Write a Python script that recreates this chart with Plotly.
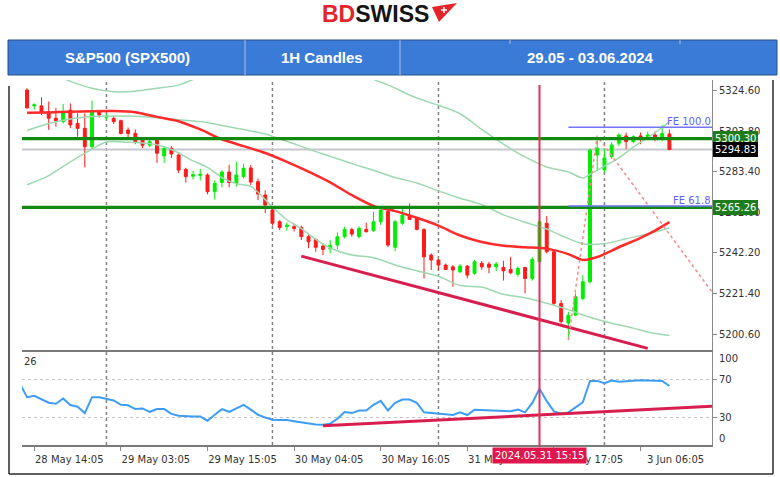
import plotly.graph_objects as go

# ---------------- data ----------------
bars = list(range(90))
opens = [5325.1, 5317.0, 5317.0, 5314.0, 5310.7, 5309.0, 5314.9, 5308.1, 5305.6, 5296.2,
         5314.0, 5311.2, 5310.7, 5309.5, 5304.7, 5303.0, 5299.6, 5297.0, 5300.0, 5291.5,
         5295.4, 5292.0, 5284.7, 5281.2, 5281.6, 5281.8, 5273.3, 5278.0, 5283.3, 5277.5,
         5281.0, 5285.4, 5278.4, 5271.6, 5264.0, 5258.0, 5255.5, 5255.5, 5255.1, 5250.4,
         5249.0, 5245.6, 5244.3, 5246.1, 5250.4, 5254.0, 5250.4, 5254.1, 5253.4, 5258.0,
         5263.2, 5245.0, 5257.2, 5260.9, 5259.7, 5254.1, 5241.0, 5238.5, 5235.9, 5235.0,
         5232.5, 5235.4, 5231.7, 5236.8, 5236.4, 5235.0, 5234.7, 5233.7, 5231.2, 5234.7,
         5229.1, 5237.6, 5257.2, 5242.7, 5216.4, 5206.4, 5210.4, 5218.9, 5227.4, 5292.0,
         5284.4, 5291.1, 5298.0, 5301.7, 5298.8, 5301.7, 5300.5, 5302.2, 5301.0, 5302.7]
highs = [5326.0, 5318.3, 5321.4, 5319.2, 5316.0, 5318.0, 5318.3, 5313.2, 5313.2, 5319.7,
         5315.0, 5313.0, 5311.8, 5310.0, 5306.0, 5305.0, 5300.5, 5300.0, 5300.5, 5296.5,
         5296.5, 5293.0, 5285.5, 5284.0, 5285.0, 5282.6, 5279.0, 5284.3, 5287.0, 5288.6,
         5287.5, 5286.9, 5280.0, 5274.0, 5264.5, 5258.8, 5257.7, 5257.0, 5256.0, 5251.3,
         5249.5, 5247.0, 5248.6, 5252.6, 5255.5, 5255.0, 5255.7, 5257.5, 5263.0, 5265.2,
         5265.0, 5259.0, 5265.2, 5267.3, 5260.4, 5254.6, 5241.9, 5239.0, 5236.7, 5235.9,
         5236.4, 5235.9, 5238.5, 5238.0, 5237.6, 5237.5, 5238.1, 5240.1, 5235.3, 5235.0,
         5240.0, 5258.5, 5260.9, 5243.8, 5218.1, 5212.1, 5221.5, 5230.8, 5295.3, 5299.5,
         5295.0, 5298.5, 5303.0, 5303.4, 5302.0, 5303.4, 5304.0, 5304.0, 5307.3, 5305.0]
lows = [5315.5, 5315.2, 5312.4, 5304.8, 5306.4, 5308.0, 5305.6, 5301.3, 5285.7, 5295.0,
        5311.0, 5310.0, 5307.8, 5302.5, 5301.0, 5297.5, 5295.5, 5296.0, 5288.0, 5288.0,
        5290.5, 5282.8, 5278.0, 5279.5, 5279.0, 5272.0, 5269.4, 5275.5, 5275.5, 5275.8,
        5280.0, 5276.7, 5269.0, 5262.3, 5256.0, 5253.7, 5253.5, 5253.0, 5248.7, 5244.5,
        5242.7, 5241.0, 5241.9, 5244.0, 5249.5, 5250.4, 5249.4, 5252.6, 5252.9, 5256.4,
        5245.0, 5243.0, 5256.4, 5258.9, 5253.6, 5229.1, 5233.4, 5233.4, 5233.4, 5224.9,
        5231.8, 5229.1, 5231.0, 5233.5, 5231.7, 5233.0, 5228.0, 5231.3, 5230.0, 5221.5,
        5228.0, 5236.8, 5241.9, 5215.3, 5206.2, 5198.0, 5210.0, 5218.0, 5226.5, 5284.0,
        5283.0, 5290.0, 5296.5, 5295.0, 5298.0, 5297.5, 5299.6, 5299.0, 5299.0, 5294.5]
closes = [5316.0, 5317.6, 5313.8, 5310.7, 5309.5, 5314.0, 5307.3, 5305.6, 5296.2, 5314.0,
          5312.4, 5311.8, 5309.0, 5303.0, 5303.0, 5298.8, 5297.0, 5298.8, 5292.9, 5295.4,
          5292.5, 5284.3, 5281.0, 5282.0, 5282.2, 5273.3, 5277.5, 5283.3, 5278.0, 5281.8,
          5285.2, 5278.2, 5272.1, 5266.5, 5257.2, 5255.0, 5256.3, 5254.6, 5250.4, 5247.8,
          5245.0, 5243.9, 5246.0, 5250.3, 5254.1, 5251.7, 5254.6, 5252.9, 5258.0, 5264.0,
          5246.1, 5258.0, 5261.4, 5259.2, 5254.1, 5240.1, 5238.5, 5235.9, 5233.7, 5233.4,
          5235.4, 5230.8, 5237.6, 5235.0, 5234.8, 5236.4, 5233.0, 5232.0, 5234.2, 5229.1,
          5238.8, 5258.0, 5242.7, 5216.4, 5207.1, 5210.4, 5219.8, 5227.4, 5294.5, 5295.5,
          5290.5, 5297.1, 5302.2, 5298.8, 5301.3, 5300.0, 5302.2, 5300.5, 5303.0, 5294.8]

# moving average (red) at sample bars
ma_bars = [0, 3, 6, 9, 12, 15, 18, 21, 24, 27, 30, 33, 36, 39, 42, 45, 48, 51, 54, 57,
           60, 63, 66, 69, 72, 75, 77, 79, 82, 85, 87, 89]
ma_vals = [5313.5, 5313.7, 5314.0, 5314.3, 5314.4, 5313.8, 5311.4, 5309.2, 5305.0, 5300.0,
           5296.5, 5293.0, 5288.5, 5283.5, 5278.0, 5271.5, 5266.0, 5263.4, 5260.0, 5256.0,
           5251.0, 5247.7, 5245.8, 5245.0, 5244.3, 5241.5, 5238.5, 5240.0, 5245.0, 5249.8,
           5253.5, 5257.8]

# bands (light green)
up_bars = [0, 3, 6, 9, 12, 15, 18, 21, 24, 27, 33, 40, 45, 48, 50, 54, 57, 60, 63, 66,
           69, 72, 75, 77, 78, 80, 82, 84, 86, 88, 89]
up_vals = [5338.0, 5334.0, 5329.5, 5326.0, 5324.2, 5324.5, 5326.0, 5327.6, 5332.0, 5336.0,
           5339.0, 5339.0, 5336.0, 5330.5, 5327.7, 5321.0, 5317.3, 5313.0, 5305.0, 5297.5,
           5291.0, 5285.9, 5283.3, 5280.3, 5282.2, 5286.3, 5290.5, 5296.0, 5300.8, 5306.0,
           5309.0]
mid_bars = [0, 3, 6, 9, 12, 15, 18, 21, 24, 27, 30, 33, 36, 39, 42, 45, 48, 51, 54, 57,
            60, 63, 66, 69, 72, 74, 77, 80, 83, 86, 89]
mid_vals = [5304.5, 5308.0, 5310.3, 5311.6, 5311.9, 5311.7, 5311.0, 5310.0, 5309.0, 5307.0,
            5305.0, 5302.7, 5299.0, 5295.0, 5291.3, 5287.6, 5284.2, 5280.5, 5277.7, 5273.7,
            5270.0, 5266.7, 5261.5, 5257.7, 5254.3, 5251.0, 5246.8, 5246.8, 5249.3, 5251.8,
            5254.8]
low_bars = [0, 3, 6, 9, 11, 14, 17, 19, 21, 23, 25, 27, 29, 31, 32, 34, 36, 38, 40, 42,
            45, 48, 51, 54, 57, 60, 63, 66, 69, 72, 75, 78, 81, 84, 86, 89]
low_vals = [5276.8, 5281.5, 5288.5, 5295.0, 5298.6, 5298.5, 5297.8, 5296.2, 5293.0, 5289.0,
            5285.7, 5280.5, 5277.4, 5276.0, 5273.0, 5265.5, 5259.0, 5254.5, 5249.0, 5244.6,
            5241.0, 5239.7, 5236.0, 5233.0, 5230.2, 5225.5, 5224.7, 5221.0, 5219.3, 5216.5,
            5213.2, 5209.3, 5206.3, 5203.8, 5201.8, 5200.0]

# RSI (blue), first value belongs to the bar just left of the view
rsi_bars = list(range(-1, 90))
rsi_vals = [66.0,
            51.4, 52.9, 49.0, 45.5, 44.3, 50.0, 42.9, 41.2, 34.3, 51.4,
            51.4, 49.5, 47.9, 43.2, 42.7, 38.6, 39.3, 35.7, 38.6, 38.6,
            33.5, 31.4, 30.7, 30.7, 30.7, 26.1, 32.5, 38.6, 35.7, 39.6,
            43.2, 38.0, 32.5, 29.5, 27.1, 27.0, 26.8, 25.5, 24.3, 22.5,
            22.0, 21.8, 22.9, 28.2, 35.4, 34.3, 37.1, 37.1, 43.2, 47.5,
            37.1, 45.3, 48.9, 48.9, 45.3, 35.1, 34.4, 33.2, 32.8, 32.2,
            35.1, 32.2, 38.0, 37.6, 36.9, 36.9, 36.9, 36.2, 38.0, 35.1,
            45.3, 60.5, 47.1, 36.2, 33.6, 35.1, 40.5, 46.0, 68.9, 68.9,
            66.4, 69.3, 68.0, 68.9, 69.2, 69.6, 69.4, 69.3, 68.9, 63.5]

# levels and drawings
level_green = [5300.30, 5265.26]
bid_level = 5294.83
fe_levels = [5306.1, 5266.0]
fe_names = ["FE 100.0", "FE 61.8"]
fe_start_bar = 75
fe_path_bars = [75, 79, 96]
fe_path_vals = [5197.7, 5301.7, 5216.7]
trend_bars = [38, 86]
trend_vals = [5240.5, 5193.5]
rsi_trend_bars = [41, 95]
rsi_trend_vals = [20.7, 41.6]
separator_bars = [11, 34, 57, 80]
cross_bar = 71
cross_label = "2024.05.31 15:15"

price_ticks = [5324.60, 5303.80, 5283.40, 5262.60, 5242.20, 5221.40, 5200.60]
time_tick_bars = [1, 13, 25, 37, 49, 61, 73, 85]
time_tick_text = ["28 May 14:05", "29 May 03:05", "29 May 15:05", "30 May 04:05",
                  "30 May 16:05", "31 May 05:05", "31 May 17:05", "3 Jun 06:05"]
rsi_ticks = [70, 30]
rsi_top, rsi_bottom = 100, 0

title_cells = ["S&P500 (SPX500)", "1H Candles", "29.05 - 03.06.2024"]

# ---------------- geometry helpers ----------------
W, H = 780, 477
L, R, T, B = 22, 712, 80, 445


def px(x):
    return (x - L) / (R - L)


def py(y):
    return (B - y) / (B - T)


FONT = "DejaVu Sans"
GREEN_C = "#00ee00"
RED_C = "#ff1a1a"

fig = go.Figure()

fig.add_trace(go.Candlestick(
    x=bars, open=opens, high=highs, low=lows, close=closes,
    increasing=dict(line=dict(color=GREEN_C, width=1), fillcolor=GREEN_C),
    decreasing=dict(line=dict(color=RED_C, width=1), fillcolor=RED_C),
    whiskerwidth=0, showlegend=False, hoverinfo="skip", xaxis="x", yaxis="y"))

band_style = dict(color="#9ed8b0", width=1.5, shape="spline", smoothing=0.8)
for bx, bv in [(up_bars, up_vals), (mid_bars, mid_vals), (low_bars, low_vals)]:
    fig.add_trace(go.Scatter(x=bx, y=bv, mode="lines", line=band_style,
                             showlegend=False, hoverinfo="skip", xaxis="x", yaxis="y"))

fig.add_trace(go.Scatter(x=ma_bars, y=ma_vals, mode="lines",
                         line=dict(color="#ff2a2a", width=2.5, shape="spline", smoothing=0.8),
                         showlegend=False, hoverinfo="skip", xaxis="x", yaxis="y"))

fig.add_trace(go.Scatter(x=trend_bars, y=trend_vals, mode="lines",
                         line=dict(color="#d81e4e", width=3),
                         showlegend=False, hoverinfo="skip", xaxis="x", yaxis="y"))

fig.add_trace(go.Scatter(x=fe_path_bars, y=fe_path_vals, mode="lines",
                         line=dict(color="#f58a8a", width=1.5, dash="dot"),
                         showlegend=False, hoverinfo="skip", xaxis="x", yaxis="y"))

# RSI panel
fig.add_trace(go.Scatter(x=rsi_bars, y=rsi_vals, mode="lines",
                         line=dict(color="#3d9df5", width=2),
                         showlegend=False, hoverinfo="skip", xaxis="x2", yaxis="y2"))
fig.add_trace(go.Scatter(x=rsi_trend_bars, y=rsi_trend_vals, mode="lines",
                         line=dict(color="#d81e4e", width=3),
                         showlegend=False, hoverinfo="skip", xaxis="x2", yaxis="y2"))

shapes = []
# period separators (dotted, both panels)
for b in separator_bars:
    shapes.append(dict(type="line", xref="x", yref="paper", x0=b, x1=b, y0=0, y1=1,
                       line=dict(color="#808080", width=1.5, dash="dot"), layer="below"))
# bid line
shapes.append(dict(type="line", xref="paper", yref="y", x0=0, x1=1, y0=bid_level, y1=bid_level,
                   line=dict(color="#c6c6d0", width=2), layer="below"))
# green levels
for lv in level_green:
    shapes.append(dict(type="line", xref="paper", yref="y", x0=0, x1=1, y0=lv, y1=lv,
                       line=dict(color="#128a12", width=3.2), layer="above"))
# FE lines
for lv in fe_levels:
    shapes.append(dict(type="line", xref="x", yref="y", x0=fe_start_bar, x1=96, y0=lv, y1=lv,
                       line=dict(color="#7474ff", width=1.5), layer="above"))
# crosshair
shapes.append(dict(type="line", xref="x", yref="paper", x0=cross_bar, x1=cross_bar,
                   y0=py(447), y1=py(85), line=dict(color="#e2305a", width=2), layer="above"))
# header blue bar
shapes.append(dict(type="rect", xref="paper", yref="paper", x0=px(8), x1=px(777),
                   y0=py(75), y1=py(40), fillcolor="#3b7bd8",
                   line=dict(color="#2c4e86", width=1)))
for xd in [245, 400]:
    shapes.append(dict(type="line", xref="paper", yref="paper", x0=px(xd), x1=px(xd),
                       y0=py(75), y1=py(40), line=dict(color="#a9bde0", width=1)))
for xd in [510, 680]:
    shapes.append(dict(type="line", xref="paper", yref="paper", x0=px(xd), x1=px(xd),
                       y0=py(44), y1=py(40), line=dict(color="#a9bde0", width=1)))
# frame
frame_col = "#2a2a2a"
shapes.append(dict(type="line", xref="paper", yref="paper", x0=px(9), x1=px(9),
                   y0=py(474), y1=py(86), line=dict(color=frame_col, width=1.5)))
shapes.append(dict(type="line", xref="paper", yref="paper", x0=px(773), x1=px(773),
                   y0=py(474), y1=py(80), line=dict(color=frame_col, width=1.5)))
shapes.append(dict(type="line", xref="paper", yref="paper", x0=px(9), x1=px(773),
                   y0=py(474), y1=py(474), line=dict(color=frame_col, width=1.5)))
# logo flag
flag = [(432, 7), (457, 3), (439, 22)]
path = "M {} {} L {} {} L {} {} Z".format(px(flag[0][0]), py(flag[0][1]), px(flag[1][0]), py(flag[1][1]),
                                          px(flag[2][0]), py(flag[2][1]))
shapes.append(dict(type="path", xref="paper", yref="paper", path=path,
                   fillcolor="#e3242b", line=dict(width=0)))
shapes.append(dict(type="line", xref="paper", yref="paper", x0=px(441), x1=px(447),
                   y0=py(10), y1=py(10), line=dict(color="white", width=1.5)))
shapes.append(dict(type="line", xref="paper", yref="paper", x0=px(444), x1=px(444),
                   y0=py(7), y1=py(13), line=dict(color="white", width=1.5)))

ann = []
ann.append(dict(x=px(375), y=py(14), xref="paper", yref="paper", showarrow=False,
                xanchor="center", yanchor="middle",
                text="<b><span style='color:#e3242b'>BD</span>SWISS</b>",
                font=dict(family="Liberation Sans", size=23, color="#151515")))
cell_x = [127, 322, 590]
for cx, tx in zip(cell_x, title_cells):
    ann.append(dict(x=px(cx), y=py(57.5), xref="paper", yref="paper", showarrow=False,
                    xanchor="center", yanchor="middle",
                    text="<b>" + tx + "</b>",
                    font=dict(family="Liberation Sans", size=15, color="white")))
# price boxes
box_specs = [(level_green[0], "#1d7d1d"), (bid_level, "#000000"), (level_green[1], "#1d7d1d")]
for lv, bg in box_specs:
    ann.append(dict(x=1, xref="paper", y=lv, yref="y", xanchor="left", yanchor="middle", xshift=1,
                    text="%.2f" % lv, showarrow=False, bgcolor=bg, borderpad=0, borderwidth=2,
                    bordercolor=bg, height=11,
                    font=dict(family=FONT, size=10, color="white")))
for lv, nm in zip(fe_levels, fe_names):
    ann.append(dict(x=1, xref="paper", y=lv, yref="y", xanchor="right", yanchor="bottom",
                    text=nm, showarrow=False, borderpad=0, yshift=-1,
                    font=dict(family=FONT, size=10, color="#6262ff")))
# RSI edge labels (MT4 draws them just inside the panel)
ann.append(dict(x=1, xref="paper", y=rsi_top, yref="y2", xanchor="left", yanchor="middle",
                xshift=5, yshift=-7, text=str(rsi_top), showarrow=False,
                font=dict(family=FONT, size=10, color="#333333")))
ann.append(dict(x=1, xref="paper", y=rsi_bottom, yref="y2", xanchor="left", yanchor="middle",
                xshift=5, yshift=6, text=str(rsi_bottom), showarrow=False,
                font=dict(family=FONT, size=10, color="#333333")))
ann.append(dict(x=px(22), y=py(361), xref="paper", yref="paper", xanchor="left", yanchor="middle",
                showarrow=False, text="26", font=dict(family=FONT, size=10, color="#333")))
# crosshair time label
ann.append(dict(x=cross_bar, xref="x2", y=py(455.5), yref="paper", showarrow=False,
                xanchor="center", yanchor="middle",
                text=cross_label, bgcolor="#e0174c", borderpad=2,
                font=dict(family=FONT, size=10, color="white")))

axis_font = dict(family=FONT, size=10, color="#333")
fig.update_layout(
    width=W, height=H,
    margin=dict(l=L, r=W - R, t=T, b=H - B),
    paper_bgcolor="white", plot_bgcolor="white",
    boxgap=0.42,
    showlegend=False,
    xaxis=dict(domain=[0, 1], anchor="y", range=[-0.7, 94.9], showticklabels=False,
               showgrid=False, zeroline=False, showline=True, linecolor="#7a7a7a", linewidth=2,
               ticks="", rangeslider=dict(visible=False), fixedrange=True),
    yaxis=dict(domain=[0.26, 1], anchor="x", range=[5192.6, 5330.2], side="right",
               tickvals=price_ticks, ticktext=["%.2f" % v for v in price_ticks],
               ticks="outside", ticklen=4, tickcolor="#888", showline=True, linecolor="#8a8a8a",
               linewidth=1, showgrid=False, zeroline=False, tickfont=axis_font),
    xaxis2=dict(domain=[0, 1], anchor="y2", matches="x", range=[-0.7, 94.9],
                tickvals=time_tick_bars, ticktext=time_tick_text, ticks="outside", ticklen=4,
                tickcolor="#888", ticklabelshift=35, showline=True, linecolor="#7a7a7a",
                linewidth=2, showgrid=False, zeroline=False, tickfont=axis_font,
                rangeslider=dict(visible=False)),
    yaxis2=dict(domain=[0, 0.2548], anchor="x2", range=[0, 100], side="right",
                tickvals=rsi_ticks, ticktext=[str(v) for v in rsi_ticks],
                ticks="outside", ticklen=4, tickcolor="#888", showline=True, linecolor="#8a8a8a",
                linewidth=1, showgrid=True, gridcolor="#c4c4c4", griddash="dot", gridwidth=1,
                zeroline=False, tickfont=axis_font),
    shapes=shapes,
    annotations=ann,
)

fig.write_html("out.html", config={"displayModeBar": False},
               post_script="document.body.style.margin='0';document.body.style.padding='0';")
